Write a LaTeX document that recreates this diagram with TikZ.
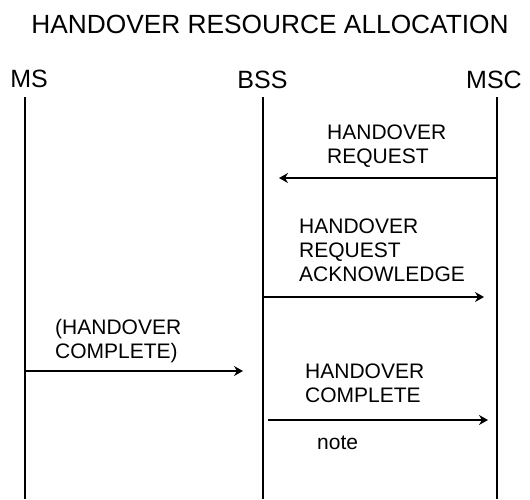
\documentclass[tikz,border=0pt]{standalone}
\usepackage{fontspec}
\setmainfont{Liberation Sans}
\usetikzlibrary{arrows.meta}
\begin{document}
\begin{tikzpicture}[x=1pt,y=-1pt,
  title/.style={font=\fontsize{26.3}{30}\selectfont, inner sep=0pt, anchor=base},
  entity/.style={font=\fontsize{25}{29}\selectfont, inner sep=0pt, anchor=base},
  msglabel/.style={font=\fontsize{21}{24}\selectfont, inner sep=0pt, anchor=base west, align=left},
  lifeline/.style={line width=2.4pt},
  msg/.style={line width=2.4pt, -{Stealth[length=9pt,width=10pt,inset=3pt]}}]
\useasboundingbox (0,0) rectangle (530,499);
\node[title] (t) at (270,33) {HANDOVER RESOURCE ALLOCATION};
\node[entity] (ms) at (29,87) {MS};
\node[entity] (bss) at (262.5,88) {BSS};
\node[entity] (msc) at (494,88) {MSC};
\coordinate (mstop) at (25,97);
\coordinate (msbot) at (25,499);
\coordinate (bsstop) at (263,97);
\coordinate (bssbot) at (263,499);
\coordinate (msctop) at (497,97);
\coordinate (mscbot) at (497,499);
\draw[lifeline] (mstop) -- (msbot);
\draw[lifeline] (bsstop) -- (bssbot);
\draw[lifeline] (msctop) -- (mscbot);
% message 1
\node[msglabel] (l1) at (327,163) {HANDOVER\\REQUEST};
\coordinate (a1s) at (497,178);
\coordinate (a1e) at (279,178);
\draw[msg] (a1s) -- (a1e);
% message 2
\node[msglabel] (l2) at (299,281) {HANDOVER\\REQUEST\\ACKNOWLEDGE};
\coordinate (a2s) at (263,297);
\coordinate (a2e) at (484,297);
\draw[msg] (a2s) -- (a2e);
% message 3
\node[msglabel] (l3) at (55,358) {(HANDOVER\\COMPLETE)};
\coordinate (a3s) at (25,371);
\coordinate (a3e) at (243,371);
\draw[msg] (a3s) -- (a3e);
% message 4
\node[msglabel] (l4) at (305,402) {HANDOVER\\COMPLETE};
\coordinate (a4s) at (268,420);
\coordinate (a4e) at (488,420);
\draw[msg] (a4s) -- (a4e);
\node[msglabel] (n4) at (317,449) {note};
\end{tikzpicture}
\end{document}
